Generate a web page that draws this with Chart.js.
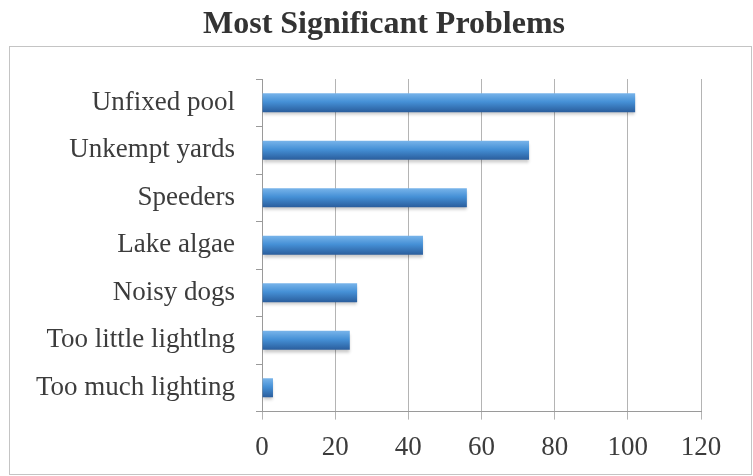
<!DOCTYPE html>
<html>
<head>
<meta charset="utf-8">
<title>Most Significant Problems</title>
<script src="https://cdn.jsdelivr.net/npm/chart.js@4/dist/chart.umd.min.js"></script>
<style>
  html, body { margin: 0; padding: 0; background: #fff; }
  #wrap { width: 753px; height: 476px; position: relative; }
</style>
</head>
<body>
<div id="wrap"><canvas id="problemsChart"></canvas></div>
<script>
// Chart data
const chartTitle = 'Most Significant Problems';
const categories = ['Unfixed pool', 'Unkempt yards', 'Speeders', 'Lake algae', 'Noisy dogs', 'Too little lightlng', 'Too much lighting'];
const responses = [102, 73, 56, 44, 26, 24, 3];
const xTicks = [0, 20, 40, 60, 80, 100, 120];

const textColor = '#3c3c3c';
const gridColor = '#b4b4b4';
const serif = '"Liberation Serif", "Times New Roman", serif';

// Vertical gradient for each bar, like the old Office 2007 style
const barGradient = {
    id: 'barGradient',
    beforeDatasetsDraw(chart) {
        const ctx = chart.ctx;
        chart.getDatasetMeta(0).data.forEach(bar => {
            const h = bar.height;
            const top = bar.y - h / 2;
            const g = ctx.createLinearGradient(0, top, 0, top + h);
            g.addColorStop(0, '#78b4ea');
            g.addColorStop(0.45, '#4590d6');
            g.addColorStop(1, '#2a5d9c');
            // options are shared between bars, so give each bar its own copy
            bar.options = Object.assign({}, bar.options, { backgroundColor: g });
        });
    },
    beforeDatasetDraw(chart) {
        const ctx = chart.ctx;
        ctx.save();
        ctx.shadowColor = 'rgba(0, 0, 0, 0.22)';
        ctx.shadowBlur = 3;
        ctx.shadowOffsetY = 3;
    },
    afterDatasetDraw(chart) {
        chart.ctx.restore();
    }
};

// Thin frame around the chart
const outerFrame = {
    id: 'outerFrame',
    afterDraw(chart) {
        const ctx = chart.ctx;
        ctx.save();
        ctx.strokeStyle = '#c4c4c4';
        ctx.lineWidth = 1;
        ctx.strokeRect(9.5, 46.5, 742, 428);
        ctx.restore();
    }
};

new Chart(document.getElementById('problemsChart'), {
    type: 'bar',
    data: {
        labels: categories,
        datasets: [{
            label: 'Responses',
            data: responses,
            backgroundColor: '#3f88d0',
            borderWidth: 0,
            categoryPercentage: 1,
            barPercentage: 0.4
        }]
    },
    options: {
        indexAxis: 'y',
        responsive: true,
        maintainAspectRatio: false,
        animation: false,
        layout: {
            padding: { left: 15, right: 0, top: 0, bottom: 0 }
        },
        plugins: {
            legend: { display: false },
            tooltip: { enabled: false },
            title: {
                display: true,
                text: chartTitle,
                color: '#333',
                font: { family: serif, size: 32, weight: 'bold' },
                padding: { top: 6, bottom: 34.6 }
            }
        },
        scales: {
            x: {
                min: xTicks[0],
                max: xTicks[xTicks.length - 1],
                afterBuildTicks: scale => {
                    scale.ticks = xTicks.map(v => ({ value: v }));
                },
                grid: {
                    color: gridColor,
                    lineWidth: 1,
                    tickLength: 8
                },
                border: { display: true, color: '#9a9a9a' },
                ticks: {
                    color: textColor,
                    padding: 12,
                    font: { family: serif, size: 27 }
                }
            },
            y: {
                afterFit: scale => { scale.width = 247; },
                grid: {
                    drawOnChartArea: false,
                    color: '#9a9a9a',
                    tickLength: 6
                },
                border: { display: true, color: '#9a9a9a' },
                ticks: {
                    color: textColor,
                    padding: 21,
                    font: { family: serif, size: 27 }
                }
            },
            // empty space on the right of the plot
            yRight: {
                type: 'category',
                position: 'right',
                afterFit: scale => { scale.width = 52; },
                grid: { display: false },
                border: { display: false },
                ticks: { display: false }
            }
        }
    },
    plugins: [barGradient, outerFrame]
});
</script>
</body>
</html>
